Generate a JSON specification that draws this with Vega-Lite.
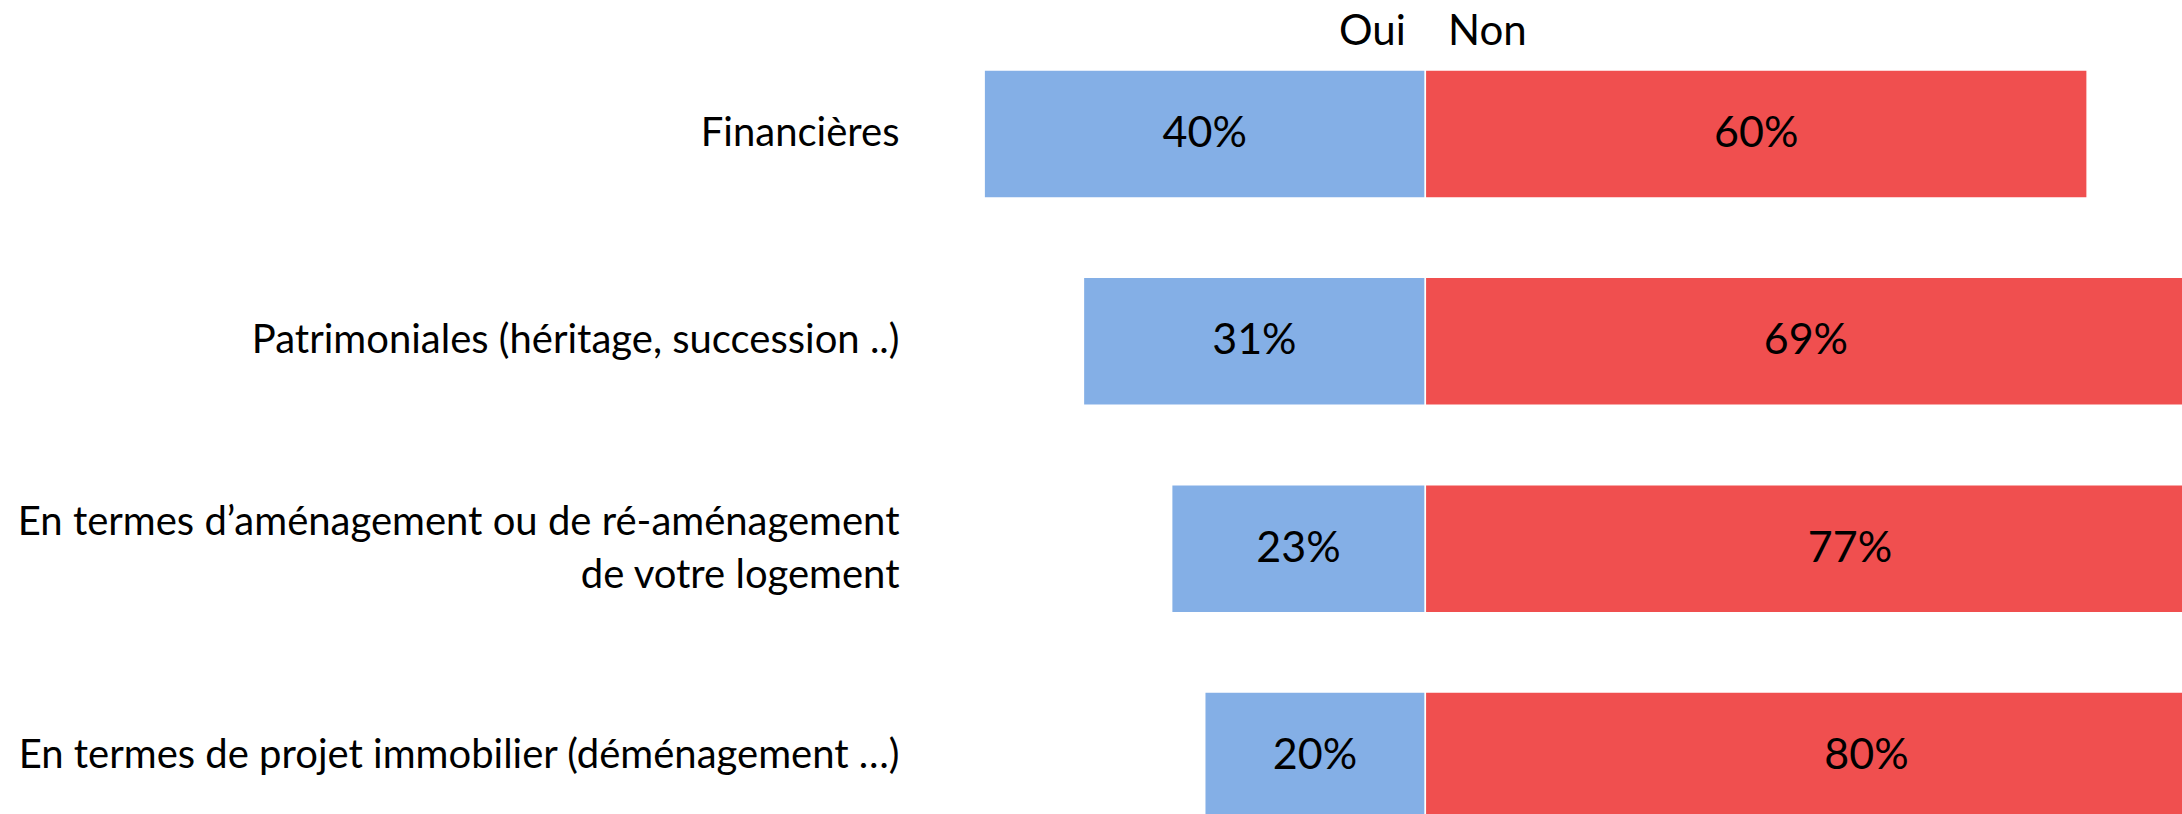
{
  "$schema": "https://vega.github.io/schema/vega-lite/v6.json",
  "autosize": "none",
  "padding": {"left": 940, "top": 0, "right": 0, "bottom": 0},
  "width": 1242,
  "height": 814,
  "background": "white",
  "config": {"view": {"stroke": null}, "font": "Lato"},
  "data": {
    "values": [
      {"categorie": "Financières", "reponse": "Oui", "valeur": 0.40},
      {"categorie": "Financières", "reponse": "Non", "valeur": 0.60},
      {"categorie": "Patrimoniales (héritage, succession ..)", "reponse": "Oui", "valeur": 0.31},
      {"categorie": "Patrimoniales (héritage, succession ..)", "reponse": "Non", "valeur": 0.69},
      {"categorie": "En termes d’aménagement ou de ré-aménagement\nde votre logement", "reponse": "Oui", "valeur": 0.23},
      {"categorie": "En termes d’aménagement ou de ré-aménagement\nde votre logement", "reponse": "Non", "valeur": 0.77},
      {"categorie": "En termes de projet immobilier (déménagement …)", "reponse": "Oui", "valeur": 0.20},
      {"categorie": "En termes de projet immobilier (déménagement …)", "reponse": "Non", "valeur": 0.80}
    ]
  },
  "transform": [
    {"calculate": "datum.reponse == 'Oui' ? -datum.valeur : datum.valeur", "as": "signe"},
    {"calculate": "datum.signe / 2", "as": "milieu"}
  ],
  "encoding": {
    "y": {
      "field": "categorie",
      "type": "nominal",
      "sort": null,
      "scale": {"range": [70, 820], "paddingInner": 0.383, "paddingOuter": 0},
      "axis": {
        "title": null,
        "domain": false,
        "ticks": false,
        "labelFont": "Lato",
        "labelFontSize": 40,
        "labelColor": "black",
        "labelPadding": 41,
        "labelLimit": 2000,
        "labelLineHeight": 53,
        "labelOffset": {"condition": {"test": "indexof(datum.value, '\\n') >= 0", "value": -26}, "value": 0},
        "labelExpr": "split(datum.label, '\\n')"
      }
    }
  },
  "layer": [
    {
      "mark": {"type": "bar", "clip": true, "stroke": "white", "strokeWidth": 1.5},
      "encoding": {
        "x": {
          "field": "signe",
          "type": "quantitative",
          "scale": {"domain": [-0.44, 0.686], "nice": false, "zero": false},
          "axis": null
        },
        "x2": {"datum": 0},
        "color": {
          "field": "reponse",
          "type": "nominal",
          "scale": {"domain": ["Oui", "Non"], "range": ["#84AFE6", "#F04F4F"]},
          "legend": {
            "title": null,
            "orient": "none",
            "direction": "horizontal",
            "legendX": 357,
            "legendY": 11,
            "padding": 0,
            "symbolSize": 0,
            "symbolStrokeWidth": 0,
            "symbolOpacity": 0,
            "labelOffset": 0,
            "columnPadding": -4,
            "labelFont": "Lato",
            "labelFontSize": 42,
            "labelColor": "black"
          }
        }
      }
    },
    {
      "mark": {"type": "text", "fontSize": 43, "font": "Lato", "color": "black", "baseline": "middle", "align": "center"},
      "encoding": {
        "x": {"field": "milieu", "type": "quantitative"},
        "text": {"field": "valeur", "type": "quantitative", "format": ".0%"}
      }
    }
  ]
}
